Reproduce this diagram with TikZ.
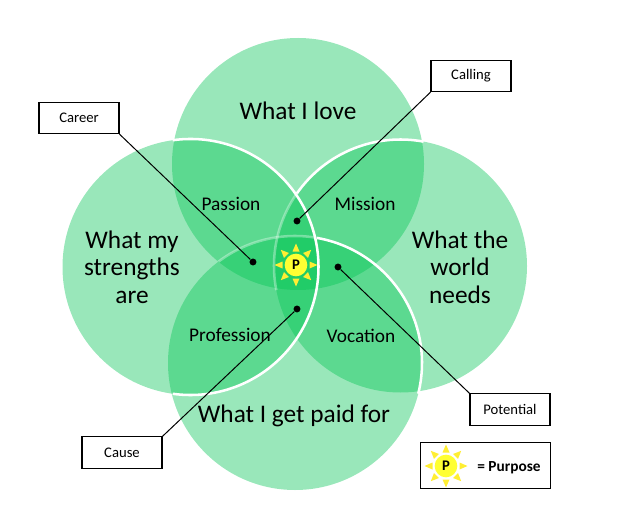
\documentclass[tikz,border=0pt]{standalone}
\usepackage{fontspec}
\setmainfont{Carlito}
\usepackage{xcolor}
\usetikzlibrary{positioning}
\definecolor{vennGreen}{HTML}{00C452}
\definecolor{sunYellow}{HTML}{FFFF33}
\definecolor{rayYellow}{HTML}{FFEE33}
\begin{document}
\begin{tikzpicture}[
  x=0.75pt, y=0.75pt,
  venn/.style={circle, fill=vennGreen, fill opacity=0.4, inner sep=0pt, outer sep=0pt, minimum size=#1*0.75pt},
  rim/.style={white, line width=1.9pt},
  faintrim/.style={white, opacity=0.35, line width=1.9pt},
  big/.style={font=\fontsize{19}{20.6}\selectfont, align=center, inner sep=0pt},
  mid/.style={font=\fontsize{14.5}{16}\selectfont, inner sep=0pt},
  tag/.style={draw, line width=0.8pt, fill=white, minimum width=60pt, minimum height=23.5pt, inner sep=0pt, font=\fontsize{11}{13}\selectfont},
  dot/.style={circle, fill=black, inner sep=0pt, minimum size=5.2pt},
  lead/.style={line width=0.75pt},
  sun/.pic={
    \foreach \a in {0,45,...,315}{
      \fill[rayYellow, rotate=\a] (13.5,-3.5) -- (21.5,0) -- (13.5,3.5) -- cycle;
    }
    \node[circle, fill=sunYellow, inner sep=0pt, minimum size=17pt, font=\fontsize{11}{12}\selectfont\bfseries] (-disc) at (0,0) {P};
  }
]
\useasboundingbox (0,0) rectangle (617,529);
% the four circles
\node[venn=252] (love) at (298,365) {};
\node[venn=256] (strengths) at (190.5,262) {};
\node[venn=253] (needs) at (400.5,263) {};
\node[venn=254] (paid) at (295,166) {};
% white rims
\draw[rim] (strengths.center) ++(98:128) arc (98:-98:128);
\draw[rim] (needs.center) ++(79.5:126.5) arc (79.5:145:126.5);
\draw[faintrim] (needs.center) ++(145:126.5) arc (145:191:126.5);
\draw[rim] (paid.center) ++(80:127) arc (80:-14:127);
\draw[faintrim] (paid.center) ++(80:127) arc (80:127:127);
% labels in the circles
\node[big] (loveText) at (298,418) {What I love};
\node[big] (strengthsText) at (132,262) {What my\\strengths\\are};
\node[big] (needsText) at (460,262) {What the\\world\\needs};
\node[big] (paidText) at (294,113) {What I get paid for};
\node[mid] (passion) at (231,325) {Passion};
\node[mid] (mission) at (365,325) {Mission};
\node[mid] (profession) at (230,194) {Profession};
\node[mid] (vocation) at (361,193) {Vocation};
% sun in the middle
\pic (sunMid) at (296,264) {sun};
% call-outs
\node[tag] (career) at (79,411) {Career};
\node[tag] (calling) at (471,453) {Calling};
\node[tag] (potential) at (510,119.5) {Potential};
\node[tag] (cause) at (122,76.5) {Cause};
\node[dot] (careerDot) at (253,267) {};
\node[dot] (callingDot) at (297,308) {};
\node[dot] (potentialDot) at (338,262) {};
\node[dot] (causeDot) at (297,220) {};
\draw[lead] (career.south east) -- (careerDot);
\draw[lead] (calling.south west) -- (callingDot);
\draw[lead] (potential.north west) -- (potentialDot);
\draw[lead] (cause.north east) -- (causeDot);
% legend
\node[draw, line width=0.8pt, minimum width=98pt, minimum height=35pt, inner sep=0pt] (legend) at (485.5,63.5) {};
\pic (sunKey) at (446,63) {sun};
\node[font=\fontsize{11.5}{13}\selectfont\bfseries, inner sep=0pt] (legendText) at (509,61) {= Purpose};
\end{tikzpicture}
\end{document}
